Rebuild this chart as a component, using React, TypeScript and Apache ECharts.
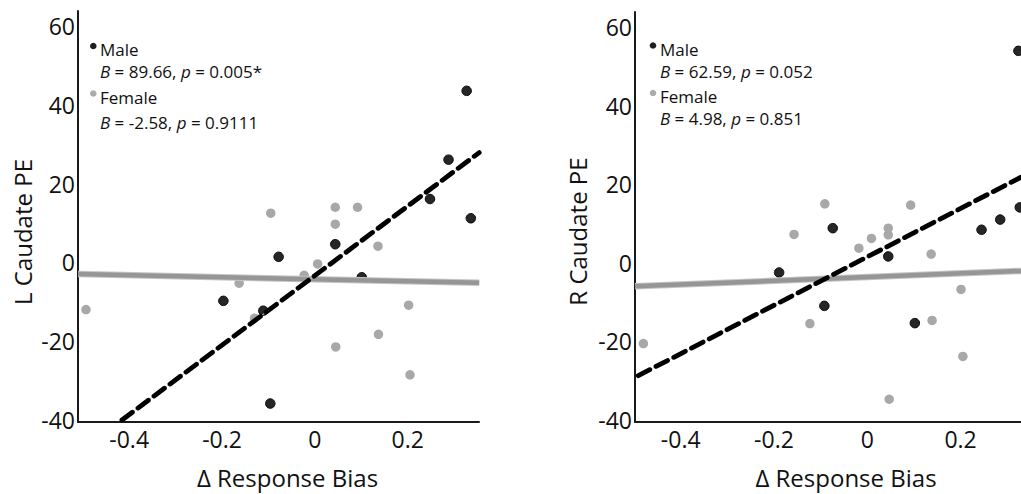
import React, { useEffect, useRef } from "react";
import * as echarts from "echarts";

const xTickValues = [-0.4, -0.2, 0, 0.2];
const yTickValues = [-40, -20, 0, 20, 40, 60];

const leftMale = [
  [0.327, 43.6], [0.288, 26.1], [0.248, 16.1], [0.336, 11.2], [0.044, 4.6],
  [-0.078, 1.4], [0.101, -3.8], [-0.197, -9.8], [-0.111, -12.3], [-0.096, -35.9],
];
const leftFemale = [
  [-0.095, 12.5], [0.044, 14.0], [0.092, 14.0], [0.044, 9.7], [0.136, 4.1],
  [0.006, -0.4], [-0.023, -3.3], [-0.163, -5.3], [-0.493, -12.0], [0.202, -10.9],
  [-0.13, -14.2], [0.137, -18.3], [0.045, -21.5], [0.205, -28.6],
];
const leftMaleFit = [[-0.4155, -40.1], [0.354, 27.9]];
const leftFemaleFit = [[-0.51, -3.0], [0.354, -5.2]];

const rightMale = [
  [0.324, 54.0], [0.327, 14.1], [0.285, 11.0], [0.245, 8.4], [-0.074, 8.8],
  [0.045, 1.6], [-0.189, -2.5], [-0.092, -11.0], [0.102, -15.4],
];
const rightFemale = [
  [-0.091, 15.0], [0.093, 14.7], [-0.157, 7.2], [0.045, 8.8], [0.045, 7.1],
  [0.009, 6.2], [-0.018, 3.7], [0.137, 2.2], [0.201, -6.8], [-0.123, -15.5],
  [0.139, -14.7], [-0.48, -20.6], [0.205, -23.9], [0.047, -34.8],
];
const rightMaleFit = [[-0.491, -28.8], [0.3296, 21.8]];
const rightFemaleFit = [[-0.498, -6.0], [0.3296, -2.1]];

const leftStats = ["{i|B} = 89.66, {i|p} = 0.005*", "{i|B} = -2.58, {i|p} = 0.9111"];
const rightStats = ["{i|B} = 62.59, {i|p} = 0.052", "{i|B} = 4.98, {i|p} = 0.851"];
const groupNames = ["Male", "Female"];
const yTitles = ["L Caudate PE", "R Caudate PE"];
const xTitle = "Δ Response Bias";

const FONT = "'Open Sans', 'Noto Sans', sans-serif";
const DARK = "#262626";
const GRAY = "#a8a8a8";

export default function App() {
  const ref = useRef<HTMLDivElement>(null);
  useEffect(() => {
    if (!ref.current) return;
    const chart = echarts.init(ref.current, undefined, { renderer: "svg" });

    const xAxisBase = (gridIndex: number, min: number, max: number) => ({
      type: "value",
      gridIndex,
      min,
      max,
      axisLine: { show: true, onZero: false, lineStyle: { color: "#1a1a1a", width: 2 } },
      axisTick: { show: false },
      splitLine: { show: false },
      axisLabel: {
        customValues: xTickValues,
        formatter: (v: number) => String(v),
        fontSize: 23,
        color: "#111",
        margin: 5,
        fontFamily: FONT,
      },
    });
    const yAxisBase = (gridIndex: number) => ({
      type: "value",
      gridIndex,
      min: -40.6,
      max: 63.9,
      axisLine: { show: true, onZero: false, lineStyle: { color: "#1a1a1a", width: 2 } },
      axisTick: { show: false },
      splitLine: { show: false },
      axisLabel: {
        customValues: yTickValues,
        formatter: (v: number) => String(v),
        fontSize: 23,
        color: "#111",
        margin: 3,
        fontFamily: FONT,
      },
    });

    const scatter = (idx: number, data: number[][], dark: boolean) => ({
      type: "scatter",
      xAxisIndex: idx,
      yAxisIndex: idx,
      data,
      symbolSize: 9.5,
      itemStyle: dark
        ? { color: DARK, borderColor: "#0a0a0a", borderWidth: 1, opacity: 1 }
        : { color: GRAY, opacity: 1 },
      silent: true,
    });
    const maleFit = (idx: number, data: number[][]) => [
      {
        type: "line",
        xAxisIndex: idx,
        yAxisIndex: idx,
        data,
        symbol: "none",
        lineStyle: { color: "#d0d0d0", width: 1 },
        silent: true,
      },
      {
        type: "line",
        xAxisIndex: idx,
        yAxisIndex: idx,
        data,
        symbol: "none",
        lineStyle: { color: "#000", width: 4.8, type: [13, 7], cap: "round" },
        silent: true,
      },
    ];
    const femaleFit = (idx: number, data: number[][]) => [
      {
        type: "line",
        xAxisIndex: idx,
        yAxisIndex: idx,
        data,
        symbol: "none",
        lineStyle: { color: "#c4c4c4", width: 6.5 },
        silent: true,
      },
      {
        type: "line",
        xAxisIndex: idx,
        yAxisIndex: idx,
        data,
        symbol: "none",
        lineStyle: { color: "#969696", width: 4.5 },
        silent: true,
      },
    ];

    const legend = (
      dotX: number,
      textX: number,
      ys: number[],
      stats: string[]
    ) => {
      const els: any[] = [];
      groupNames.forEach((name, i) => {
        els.push({
          type: "circle",
          shape: { cx: dotX, cy: ys[i * 2] - 3.5, r: 3.3 },
          style: { fill: i === 0 ? "#1e1e1e" : "#ababab" },
          silent: true,
        });
        els.push({
          type: "text",
          x: textX,
          y: ys[i * 2],
          style: {
            text: name,
            fontSize: 17,
            fontFamily: FONT,
            fill: "#111",
            verticalAlign: "middle",
            align: "left",
          },
          silent: true,
        });
        els.push({
          type: "text",
          x: textX,
          y: ys[i * 2 + 1],
          style: {
            text: stats[i],
            fontSize: 17,
            fontFamily: FONT,
            fill: "#111",
            verticalAlign: "middle",
            align: "left",
            rich: {
              i: { fontStyle: "italic", fontSize: 17, fontFamily: FONT, fill: "#111" },
            },
          },
          silent: true,
        });
      });
      return els;
    };

    const title = (x: number, y: number, text: string, rotate: boolean) => ({
      type: "text",
      x,
      y,
      rotation: rotate ? Math.PI / 2 : 0,
      style: {
        text,
        fontSize: 24,
        fontFamily: FONT,
        fill: "#111",
        align: "center",
        verticalAlign: "middle",
      },
      silent: true,
    });

    chart.setOption({
      animation: false,
      backgroundColor: "#fff",
      grid: [
        { left: 78, right: 1021 - 479, top: 11, bottom: 494 - 422 },
        { left: 635, right: 0, top: 12, bottom: 494 - 422 },
      ],
      xAxis: [xAxisBase(0, -0.5102, 0.3536), xAxisBase(1, -0.498, 0.3296)],
      yAxis: [yAxisBase(0), yAxisBase(1)],
      series: [
        scatter(0, leftFemale, false),
        scatter(0, leftMale, true),
        ...femaleFit(0, leftFemaleFit),
        ...maleFit(0, leftMaleFit),
        scatter(1, rightFemale, false),
        scatter(1, rightMale, true),
        ...femaleFit(1, rightFemaleFit),
        ...maleFit(1, rightMaleFit),
      ],
      graphic: [
        ...legend(93.3, 100, [49.5, 71.5, 97, 122], leftStats),
        ...legend(653, 660, [49, 71.5, 96.5, 118.5], rightStats),
        title(287.5, 477, xTitle, false),
        title(846, 477, xTitle, false),
        title(22, 232, yTitles[0], true),
        title(577, 231.5, yTitles[1], true),
      ],
    });
    return () => chart.dispose();
  }, []);
  return (
    <div
      ref={ref}
      style={{ position: "fixed", left: 0, top: 0, width: 1021, height: 494, background: "#fff" }}
    />
  );
}
